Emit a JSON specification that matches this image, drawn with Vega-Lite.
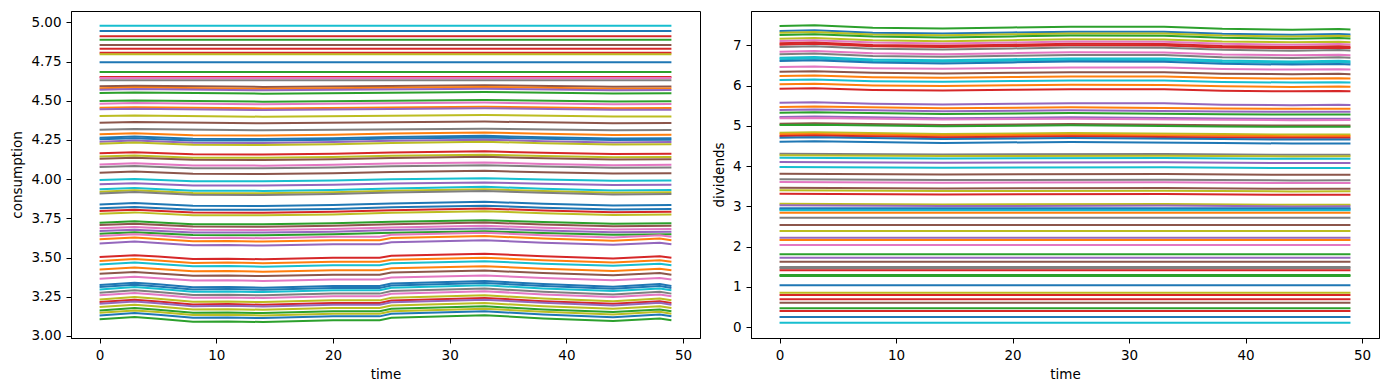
{
"$schema":"https://vega.github.io/schema/vega-lite/v6.json",
"padding":{"left":10,"top":10,"right":9,"bottom":0},
"spacing":10,
"config":{"font":"DejaVu Sans","view":{"stroke":"#000","strokeWidth":1},
"axis":{"grid":false,"domainColor":"#000","tickColor":"#000","labelColor":"#000","titleColor":"#000","labelFontSize":13.5,"titleFontSize":13.5,"titleFontWeight":"normal","tickSize":5,"labelPadding":5,"titlePadding":6,"labelFont":"DejaVu Sans","titleFont":"DejaVu Sans"}},
"datasets":{
"col":[{"s":1,"c":9},{"s":2,"c":0},{"s":3,"c":3},{"s":4,"c":2},{"s":5,"c":5},{"s":6,"c":3},{"s":7,"c":3},{"s":8,"c":8},{"s":9,"c":0},{"s":10,"c":2},{"s":11,"c":3},{"s":12,"c":6},{"s":13,"c":7},{"s":14,"c":5},{"s":15,"c":1},{"s":16,"c":4},{"s":17,"c":2},{"s":18,"c":2},{"s":19,"c":6},{"s":20,"c":1},{"s":21,"c":4},{"s":22,"c":8},{"s":23,"c":5},{"s":24,"c":7},{"s":25,"c":1},{"s":26,"c":0},{"s":27,"c":0},{"s":28,"c":4},{"s":29,"c":8},{"s":30,"c":3},{"s":31,"c":8},{"s":32,"c":5},{"s":33,"c":6},{"s":34,"c":7},{"s":35,"c":5},{"s":36,"c":9},{"s":37,"c":4},{"s":38,"c":9},{"s":39,"c":8},{"s":40,"c":7},{"s":41,"c":0},{"s":42,"c":0},{"s":43,"c":3},{"s":44,"c":8},{"s":45,"c":2},{"s":46,"c":5},{"s":47,"c":6},{"s":48,"c":4},{"s":49,"c":2},{"s":50,"c":6},{"s":51,"c":1},{"s":52,"c":4},{"s":53,"c":3},{"s":54,"c":1},{"s":55,"c":9},{"s":56,"c":1},{"s":57,"c":5},{"s":58,"c":6},{"s":59,"c":0},{"s":60,"c":0},{"s":61,"c":9},{"s":62,"c":7},{"s":63,"c":6},{"s":64,"c":8},{"s":65,"c":3},{"s":66,"c":4},{"s":67,"c":8},{"s":68,"c":2},{"s":69,"c":8},{"s":70,"c":0},{"s":71,"c":2},
{"s":101,"c":2},{"s":102,"c":0},{"s":103,"c":8},{"s":104,"c":2},{"s":105,"c":8},{"s":106,"c":6},{"s":107,"c":3},{"s":108,"c":3},{"s":109,"c":7},{"s":110,"c":6},{"s":111,"c":7},{"s":112,"c":9},{"s":113,"c":9},{"s":114,"c":0},{"s":115,"c":6},{"s":116,"c":5},{"s":117,"c":1},{"s":118,"c":9},{"s":119,"c":1},{"s":120,"c":3},{"s":121,"c":4},{"s":122,"c":1},{"s":123,"c":4},{"s":124,"c":2},{"s":125,"c":4},{"s":126,"c":6},{"s":127,"c":5},{"s":128,"c":2},{"s":129,"c":8},{"s":130,"c":1},{"s":131,"c":3},{"s":132,"c":0},{"s":133,"c":0},{"s":134,"c":7},{"s":135,"c":8},{"s":136,"c":9},{"s":137,"c":4},{"s":138,"c":9},{"s":139,"c":5},{"s":140,"c":7},{"s":141,"c":6},{"s":142,"c":5},{"s":143,"c":8},{"s":144,"c":3},{"s":145,"c":8},{"s":146,"c":4},{"s":147,"c":0},{"s":148,"c":0},{"s":149,"c":9},{"s":150,"c":1},{"s":151,"c":7},{"s":152,"c":5},{"s":153,"c":8},{"s":154,"c":4},{"s":155,"c":1},{"s":156,"c":6},{"s":157,"c":2},{"s":158,"c":4},{"s":159,"c":5},{"s":160,"c":7},{"s":161,"c":7},{"s":162,"c":3},{"s":163,"c":2},{"s":164,"c":2},{"s":165,"c":0},{"s":166,"c":8},{"s":167,"c":3},{"s":168,"c":3},{"s":169,"c":5},{"s":170,"c":2},{"s":171,"c":3},{"s":172,"c":0},{"s":173,"c":9}],
"c":[
{"s":1,"t":0,"v":4.978},{"s":1,"t":49,"v":4.978},
{"s":2,"t":0,"v":4.944},{"s":2,"t":49,"v":4.944},
{"s":3,"t":0,"v":4.911},{"s":3,"t":49,"v":4.911},
{"s":4,"t":0,"v":4.889},{"s":4,"t":49,"v":4.889},
{"s":5,"t":0,"v":4.855},{"s":5,"t":49,"v":4.855},
{"s":6,"t":0,"v":4.832},{"s":6,"t":49,"v":4.832},
{"s":7,"t":0,"v":4.806},{"s":7,"t":49,"v":4.806},
{"s":8,"t":0,"v":4.796},{"s":8,"t":49,"v":4.796},
{"s":9,"t":0,"v":4.745},{"s":9,"t":49,"v":4.745},
{"s":10,"t":0,"v":4.683},{"s":10,"t":49,"v":4.683},
{"s":11,"t":0,"v":4.651},{"s":11,"t":49,"v":4.651},
{"s":12,"t":0,"v":4.645},{"s":12,"t":49,"v":4.645},
{"s":13,"t":0,"v":4.630},{"s":13,"t":49,"v":4.630},
{"s":14,"t":0,"v":4.592},{"s":14,"t":3,"v":4.596},{"s":14,"t":14,"v":4.588},{"s":14,"t":33,"v":4.599},{"s":14,"t":44,"v":4.589},{"s":14,"t":49,"v":4.590},
{"s":15,"t":0,"v":4.580},{"s":15,"t":3,"v":4.584},{"s":15,"t":14,"v":4.576},{"s":15,"t":33,"v":4.587},{"s":15,"t":44,"v":4.577},{"s":15,"t":49,"v":4.578},
{"s":16,"t":0,"v":4.570},{"s":16,"t":3,"v":4.574},{"s":16,"t":14,"v":4.566},{"s":16,"t":33,"v":4.577},{"s":16,"t":44,"v":4.567},{"s":16,"t":49,"v":4.568},
{"s":17,"t":0,"v":4.549},{"s":17,"t":3,"v":4.553},{"s":17,"t":14,"v":4.545},{"s":17,"t":33,"v":4.556},{"s":17,"t":44,"v":4.546},{"s":17,"t":49,"v":4.547},
{"s":18,"t":0,"v":4.498},{"s":18,"t":3,"v":4.502},{"s":18,"t":14,"v":4.494},{"s":18,"t":33,"v":4.505},{"s":18,"t":44,"v":4.495},{"s":18,"t":49,"v":4.496},
{"s":19,"t":0,"v":4.481},{"s":19,"t":3,"v":4.485},{"s":19,"t":14,"v":4.477},{"s":19,"t":33,"v":4.488},{"s":19,"t":44,"v":4.478},{"s":19,"t":49,"v":4.479},
{"s":20,"t":0,"v":4.455},{"s":20,"t":3,"v":4.459},{"s":20,"t":14,"v":4.451},{"s":20,"t":33,"v":4.462},{"s":20,"t":44,"v":4.452},{"s":20,"t":49,"v":4.453},
{"s":21,"t":0,"v":4.445},{"s":21,"t":3,"v":4.449},{"s":21,"t":14,"v":4.441},{"s":21,"t":33,"v":4.452},{"s":21,"t":44,"v":4.442},{"s":21,"t":49,"v":4.443},
{"s":22,"t":0,"v":4.402},{"s":22,"t":3,"v":4.406},{"s":22,"t":14,"v":4.398},{"s":22,"t":33,"v":4.409},{"s":22,"t":44,"v":4.399},{"s":22,"t":49,"v":4.400},
{"s":23,"t":0,"v":4.360},{"s":23,"t":3,"v":4.364},{"s":23,"t":14,"v":4.356},{"s":23,"t":33,"v":4.367},{"s":23,"t":44,"v":4.357},{"s":23,"t":49,"v":4.358},
{"s":24,"t":0,"v":4.315},{"s":24,"t":3,"v":4.319},{"s":24,"t":14,"v":4.311},{"s":24,"t":33,"v":4.322},{"s":24,"t":44,"v":4.312},{"s":24,"t":49,"v":4.313},
{"s":25,"t":0,"v":4.286},{"s":25,"t":3,"v":4.293},{"s":25,"t":8,"v":4.279},{"s":25,"t":14,"v":4.278},{"s":25,"t":20,"v":4.283},{"s":25,"t":25,"v":4.291},{"s":25,"t":33,"v":4.298},{"s":25,"t":38,"v":4.289},{"s":25,"t":44,"v":4.281},{"s":25,"t":49,"v":4.283},
{"s":26,"t":0,"v":4.264},{"s":26,"t":3,"v":4.271},{"s":26,"t":8,"v":4.257},{"s":26,"t":14,"v":4.256},{"s":26,"t":20,"v":4.261},{"s":26,"t":25,"v":4.269},{"s":26,"t":33,"v":4.276},{"s":26,"t":38,"v":4.267},{"s":26,"t":44,"v":4.259},{"s":26,"t":49,"v":4.261},
{"s":27,"t":0,"v":4.254},{"s":27,"t":3,"v":4.261},{"s":27,"t":8,"v":4.247},{"s":27,"t":14,"v":4.246},{"s":27,"t":20,"v":4.251},{"s":27,"t":25,"v":4.259},{"s":27,"t":33,"v":4.266},{"s":27,"t":38,"v":4.257},{"s":27,"t":44,"v":4.249},{"s":27,"t":49,"v":4.251},
{"s":28,"t":0,"v":4.239},{"s":28,"t":3,"v":4.246},{"s":28,"t":8,"v":4.232},{"s":28,"t":14,"v":4.231},{"s":28,"t":20,"v":4.236},{"s":28,"t":25,"v":4.244},{"s":28,"t":33,"v":4.251},{"s":28,"t":38,"v":4.242},{"s":28,"t":44,"v":4.234},{"s":28,"t":49,"v":4.236},
{"s":29,"t":0,"v":4.226},{"s":29,"t":3,"v":4.233},{"s":29,"t":8,"v":4.219},{"s":29,"t":14,"v":4.218},{"s":29,"t":20,"v":4.223},{"s":29,"t":25,"v":4.231},{"s":29,"t":33,"v":4.238},{"s":29,"t":38,"v":4.229},{"s":29,"t":44,"v":4.221},{"s":29,"t":49,"v":4.223},
{"s":30,"t":0,"v":4.165},{"s":30,"t":3,"v":4.172},{"s":30,"t":8,"v":4.158},{"s":30,"t":14,"v":4.157},{"s":30,"t":20,"v":4.162},{"s":30,"t":25,"v":4.170},{"s":30,"t":33,"v":4.177},{"s":30,"t":38,"v":4.168},{"s":30,"t":44,"v":4.160},{"s":30,"t":49,"v":4.162},
{"s":31,"t":0,"v":4.144},{"s":31,"t":3,"v":4.151},{"s":31,"t":8,"v":4.137},{"s":31,"t":14,"v":4.136},{"s":31,"t":20,"v":4.141},{"s":31,"t":25,"v":4.149},{"s":31,"t":33,"v":4.156},{"s":31,"t":38,"v":4.147},{"s":31,"t":44,"v":4.139},{"s":31,"t":49,"v":4.141},
{"s":32,"t":0,"v":4.130},{"s":32,"t":3,"v":4.137},{"s":32,"t":8,"v":4.123},{"s":32,"t":14,"v":4.122},{"s":32,"t":20,"v":4.127},{"s":32,"t":25,"v":4.135},{"s":32,"t":33,"v":4.142},{"s":32,"t":38,"v":4.133},{"s":32,"t":44,"v":4.125},{"s":32,"t":49,"v":4.127},
{"s":33,"t":0,"v":4.094},{"s":33,"t":3,"v":4.101},{"s":33,"t":8,"v":4.087},{"s":33,"t":14,"v":4.086},{"s":33,"t":20,"v":4.091},{"s":33,"t":25,"v":4.099},{"s":33,"t":33,"v":4.106},{"s":33,"t":38,"v":4.097},{"s":33,"t":44,"v":4.089},{"s":33,"t":49,"v":4.091},
{"s":34,"t":0,"v":4.077},{"s":34,"t":3,"v":4.084},{"s":34,"t":8,"v":4.070},{"s":34,"t":14,"v":4.069},{"s":34,"t":20,"v":4.074},{"s":34,"t":25,"v":4.082},{"s":34,"t":33,"v":4.089},{"s":34,"t":38,"v":4.080},{"s":34,"t":44,"v":4.072},{"s":34,"t":49,"v":4.074},
{"s":35,"t":0,"v":4.041},{"s":35,"t":3,"v":4.048},{"s":35,"t":8,"v":4.034},{"s":35,"t":14,"v":4.033},{"s":35,"t":20,"v":4.038},{"s":35,"t":25,"v":4.046},{"s":35,"t":33,"v":4.053},{"s":35,"t":38,"v":4.044},{"s":35,"t":44,"v":4.036},{"s":35,"t":49,"v":4.038},
{"s":36,"t":0,"v":3.994},{"s":36,"t":3,"v":4.001},{"s":36,"t":8,"v":3.987},{"s":36,"t":14,"v":3.986},{"s":36,"t":20,"v":3.991},{"s":36,"t":25,"v":3.999},{"s":36,"t":33,"v":4.006},{"s":36,"t":38,"v":3.997},{"s":36,"t":44,"v":3.989},{"s":36,"t":49,"v":3.991},
{"s":37,"t":0,"v":3.967},{"s":37,"t":3,"v":3.974},{"s":37,"t":8,"v":3.960},{"s":37,"t":14,"v":3.959},{"s":37,"t":20,"v":3.964},{"s":37,"t":25,"v":3.972},{"s":37,"t":33,"v":3.979},{"s":37,"t":38,"v":3.970},{"s":37,"t":44,"v":3.962},{"s":37,"t":49,"v":3.964},
{"s":38,"t":0,"v":3.935},{"s":38,"t":3,"v":3.944},{"s":38,"t":8,"v":3.926},{"s":38,"t":14,"v":3.925},{"s":38,"t":20,"v":3.931},{"s":38,"t":25,"v":3.941},{"s":38,"t":33,"v":3.951},{"s":38,"t":38,"v":3.939},{"s":38,"t":44,"v":3.928},{"s":38,"t":49,"v":3.931},
{"s":39,"t":0,"v":3.920},{"s":39,"t":3,"v":3.929},{"s":39,"t":8,"v":3.911},{"s":39,"t":14,"v":3.910},{"s":39,"t":20,"v":3.916},{"s":39,"t":25,"v":3.926},{"s":39,"t":33,"v":3.936},{"s":39,"t":38,"v":3.924},{"s":39,"t":44,"v":3.913},{"s":39,"t":49,"v":3.916},
{"s":40,"t":0,"v":3.909},{"s":40,"t":3,"v":3.918},{"s":40,"t":8,"v":3.900},{"s":40,"t":14,"v":3.899},{"s":40,"t":20,"v":3.905},{"s":40,"t":25,"v":3.915},{"s":40,"t":33,"v":3.925},{"s":40,"t":38,"v":3.913},{"s":40,"t":44,"v":3.902},{"s":40,"t":49,"v":3.905},
{"s":41,"t":0,"v":3.839},{"s":41,"t":3,"v":3.848},{"s":41,"t":8,"v":3.830},{"s":41,"t":14,"v":3.829},{"s":41,"t":20,"v":3.835},{"s":41,"t":25,"v":3.845},{"s":41,"t":33,"v":3.855},{"s":41,"t":38,"v":3.843},{"s":41,"t":44,"v":3.832},{"s":41,"t":49,"v":3.835},
{"s":42,"t":0,"v":3.814},{"s":42,"t":3,"v":3.823},{"s":42,"t":8,"v":3.805},{"s":42,"t":14,"v":3.804},{"s":42,"t":20,"v":3.810},{"s":42,"t":25,"v":3.820},{"s":42,"t":33,"v":3.830},{"s":42,"t":38,"v":3.818},{"s":42,"t":44,"v":3.807},{"s":42,"t":49,"v":3.810},
{"s":43,"t":0,"v":3.796},{"s":43,"t":3,"v":3.805},{"s":43,"t":8,"v":3.787},{"s":43,"t":14,"v":3.786},{"s":43,"t":20,"v":3.792},{"s":43,"t":25,"v":3.802},{"s":43,"t":33,"v":3.812},{"s":43,"t":38,"v":3.800},{"s":43,"t":44,"v":3.789},{"s":43,"t":49,"v":3.792},
{"s":44,"t":0,"v":3.779},{"s":44,"t":3,"v":3.788},{"s":44,"t":8,"v":3.770},{"s":44,"t":14,"v":3.769},{"s":44,"t":20,"v":3.775},{"s":44,"t":25,"v":3.785},{"s":44,"t":33,"v":3.795},{"s":44,"t":38,"v":3.783},{"s":44,"t":44,"v":3.772},{"s":44,"t":49,"v":3.775},
{"s":45,"t":0,"v":3.722},{"s":45,"t":3,"v":3.731},{"s":45,"t":8,"v":3.713},{"s":45,"t":14,"v":3.712},{"s":45,"t":20,"v":3.718},{"s":45,"t":25,"v":3.728},{"s":45,"t":33,"v":3.738},{"s":45,"t":38,"v":3.726},{"s":45,"t":44,"v":3.715},{"s":45,"t":49,"v":3.718},
{"s":46,"t":0,"v":3.707},{"s":46,"t":3,"v":3.716},{"s":46,"t":8,"v":3.698},{"s":46,"t":14,"v":3.697},{"s":46,"t":20,"v":3.703},{"s":46,"t":25,"v":3.713},{"s":46,"t":33,"v":3.723},{"s":46,"t":38,"v":3.711},{"s":46,"t":44,"v":3.700},{"s":46,"t":49,"v":3.703},
{"s":47,"t":0,"v":3.686},{"s":47,"t":3,"v":3.695},{"s":47,"t":8,"v":3.677},{"s":47,"t":14,"v":3.676},{"s":47,"t":20,"v":3.682},{"s":47,"t":25,"v":3.692},{"s":47,"t":33,"v":3.702},{"s":47,"t":38,"v":3.690},{"s":47,"t":44,"v":3.679},{"s":47,"t":49,"v":3.682},
{"s":48,"t":0,"v":3.669},{"s":48,"t":3,"v":3.678},{"s":48,"t":8,"v":3.660},{"s":48,"t":14,"v":3.659},{"s":48,"t":20,"v":3.665},{"s":48,"t":25,"v":3.675},{"s":48,"t":33,"v":3.685},{"s":48,"t":38,"v":3.673},{"s":48,"t":44,"v":3.662},{"s":48,"t":49,"v":3.665},
{"s":49,"t":0,"v":3.652},{"s":49,"t":3,"v":3.661},{"s":49,"t":8,"v":3.643},{"s":49,"t":14,"v":3.642},{"s":49,"t":20,"v":3.648},{"s":49,"t":25,"v":3.658},{"s":49,"t":33,"v":3.668},{"s":49,"t":38,"v":3.656},{"s":49,"t":44,"v":3.645},{"s":49,"t":49,"v":3.648},
{"s":50,"t":0,"v":3.637},{"s":50,"t":3,"v":3.649},{"s":50,"t":5,"v":3.640},{"s":50,"t":8,"v":3.625},{"s":50,"t":11,"v":3.627},{"s":50,"t":14,"v":3.623},{"s":50,"t":20,"v":3.632},{"s":50,"t":24,"v":3.632},{"s":50,"t":25,"v":3.645},{"s":50,"t":33,"v":3.658},{"s":50,"t":38,"v":3.642},{"s":50,"t":44,"v":3.628},{"s":50,"t":48,"v":3.642},{"s":50,"t":49,"v":3.632},
{"s":51,"t":0,"v":3.616},{"s":51,"t":3,"v":3.628},{"s":51,"t":5,"v":3.619},{"s":51,"t":8,"v":3.604},{"s":51,"t":11,"v":3.606},{"s":51,"t":14,"v":3.602},{"s":51,"t":20,"v":3.611},{"s":51,"t":24,"v":3.611},{"s":51,"t":25,"v":3.624},{"s":51,"t":33,"v":3.637},{"s":51,"t":38,"v":3.621},{"s":51,"t":44,"v":3.607},{"s":51,"t":48,"v":3.621},{"s":51,"t":49,"v":3.611},
{"s":52,"t":0,"v":3.590},{"s":52,"t":3,"v":3.602},{"s":52,"t":5,"v":3.593},{"s":52,"t":8,"v":3.578},{"s":52,"t":11,"v":3.580},{"s":52,"t":14,"v":3.576},{"s":52,"t":20,"v":3.585},{"s":52,"t":24,"v":3.585},{"s":52,"t":25,"v":3.598},{"s":52,"t":33,"v":3.611},{"s":52,"t":38,"v":3.595},{"s":52,"t":44,"v":3.581},{"s":52,"t":48,"v":3.595},{"s":52,"t":49,"v":3.585},
{"s":53,"t":0,"v":3.503},{"s":53,"t":3,"v":3.515},{"s":53,"t":5,"v":3.506},{"s":53,"t":8,"v":3.491},{"s":53,"t":11,"v":3.493},{"s":53,"t":14,"v":3.489},{"s":53,"t":20,"v":3.498},{"s":53,"t":24,"v":3.498},{"s":53,"t":25,"v":3.511},{"s":53,"t":33,"v":3.524},{"s":53,"t":38,"v":3.508},{"s":53,"t":44,"v":3.494},{"s":53,"t":48,"v":3.508},{"s":53,"t":49,"v":3.498},
{"s":54,"t":0,"v":3.478},{"s":54,"t":3,"v":3.490},{"s":54,"t":5,"v":3.481},{"s":54,"t":8,"v":3.466},{"s":54,"t":11,"v":3.468},{"s":54,"t":14,"v":3.464},{"s":54,"t":20,"v":3.473},{"s":54,"t":24,"v":3.473},{"s":54,"t":25,"v":3.486},{"s":54,"t":33,"v":3.499},{"s":54,"t":38,"v":3.483},{"s":54,"t":44,"v":3.469},{"s":54,"t":48,"v":3.483},{"s":54,"t":49,"v":3.473},
{"s":55,"t":0,"v":3.456},{"s":55,"t":3,"v":3.468},{"s":55,"t":5,"v":3.459},{"s":55,"t":8,"v":3.444},{"s":55,"t":11,"v":3.446},{"s":55,"t":14,"v":3.442},{"s":55,"t":20,"v":3.451},{"s":55,"t":24,"v":3.451},{"s":55,"t":25,"v":3.464},{"s":55,"t":33,"v":3.477},{"s":55,"t":38,"v":3.461},{"s":55,"t":44,"v":3.447},{"s":55,"t":48,"v":3.461},{"s":55,"t":49,"v":3.451},
{"s":56,"t":0,"v":3.424},{"s":56,"t":3,"v":3.436},{"s":56,"t":5,"v":3.427},{"s":56,"t":8,"v":3.412},{"s":56,"t":11,"v":3.414},{"s":56,"t":14,"v":3.410},{"s":56,"t":20,"v":3.419},{"s":56,"t":24,"v":3.419},{"s":56,"t":25,"v":3.432},{"s":56,"t":33,"v":3.445},{"s":56,"t":38,"v":3.429},{"s":56,"t":44,"v":3.415},{"s":56,"t":48,"v":3.429},{"s":56,"t":49,"v":3.419},
{"s":57,"t":0,"v":3.396},{"s":57,"t":3,"v":3.408},{"s":57,"t":5,"v":3.399},{"s":57,"t":8,"v":3.384},{"s":57,"t":11,"v":3.386},{"s":57,"t":14,"v":3.382},{"s":57,"t":20,"v":3.391},{"s":57,"t":24,"v":3.391},{"s":57,"t":25,"v":3.404},{"s":57,"t":33,"v":3.417},{"s":57,"t":38,"v":3.401},{"s":57,"t":44,"v":3.387},{"s":57,"t":48,"v":3.401},{"s":57,"t":49,"v":3.391},
{"s":58,"t":0,"v":3.365},{"s":58,"t":3,"v":3.377},{"s":58,"t":5,"v":3.368},{"s":58,"t":8,"v":3.353},{"s":58,"t":11,"v":3.355},{"s":58,"t":14,"v":3.351},{"s":58,"t":20,"v":3.360},{"s":58,"t":24,"v":3.360},{"s":58,"t":25,"v":3.373},{"s":58,"t":33,"v":3.386},{"s":58,"t":38,"v":3.370},{"s":58,"t":44,"v":3.356},{"s":58,"t":48,"v":3.370},{"s":58,"t":49,"v":3.360},
{"s":59,"t":0,"v":3.325},{"s":59,"t":3,"v":3.340},{"s":59,"t":5,"v":3.329},{"s":59,"t":8,"v":3.310},{"s":59,"t":11,"v":3.312},{"s":59,"t":14,"v":3.308},{"s":59,"t":20,"v":3.319},{"s":59,"t":24,"v":3.319},{"s":59,"t":25,"v":3.335},{"s":59,"t":33,"v":3.351},{"s":59,"t":38,"v":3.331},{"s":59,"t":44,"v":3.314},{"s":59,"t":48,"v":3.331},{"s":59,"t":49,"v":3.319},
{"s":60,"t":0,"v":3.312},{"s":60,"t":3,"v":3.327},{"s":60,"t":5,"v":3.316},{"s":60,"t":8,"v":3.297},{"s":60,"t":11,"v":3.299},{"s":60,"t":14,"v":3.295},{"s":60,"t":20,"v":3.306},{"s":60,"t":24,"v":3.306},{"s":60,"t":25,"v":3.322},{"s":60,"t":33,"v":3.338},{"s":60,"t":38,"v":3.318},{"s":60,"t":44,"v":3.301},{"s":60,"t":48,"v":3.318},{"s":60,"t":49,"v":3.306},
{"s":61,"t":0,"v":3.297},{"s":61,"t":3,"v":3.312},{"s":61,"t":5,"v":3.301},{"s":61,"t":8,"v":3.282},{"s":61,"t":11,"v":3.284},{"s":61,"t":14,"v":3.280},{"s":61,"t":20,"v":3.291},{"s":61,"t":24,"v":3.291},{"s":61,"t":25,"v":3.307},{"s":61,"t":33,"v":3.323},{"s":61,"t":38,"v":3.303},{"s":61,"t":44,"v":3.286},{"s":61,"t":48,"v":3.303},{"s":61,"t":49,"v":3.291},
{"s":62,"t":0,"v":3.276},{"s":62,"t":3,"v":3.291},{"s":62,"t":5,"v":3.280},{"s":62,"t":8,"v":3.261},{"s":62,"t":11,"v":3.263},{"s":62,"t":14,"v":3.259},{"s":62,"t":20,"v":3.270},{"s":62,"t":24,"v":3.270},{"s":62,"t":25,"v":3.286},{"s":62,"t":33,"v":3.302},{"s":62,"t":38,"v":3.282},{"s":62,"t":44,"v":3.265},{"s":62,"t":48,"v":3.282},{"s":62,"t":49,"v":3.270},
{"s":63,"t":0,"v":3.259},{"s":63,"t":3,"v":3.274},{"s":63,"t":5,"v":3.263},{"s":63,"t":8,"v":3.244},{"s":63,"t":11,"v":3.246},{"s":63,"t":14,"v":3.242},{"s":63,"t":20,"v":3.253},{"s":63,"t":24,"v":3.253},{"s":63,"t":25,"v":3.269},{"s":63,"t":33,"v":3.285},{"s":63,"t":38,"v":3.265},{"s":63,"t":44,"v":3.248},{"s":63,"t":48,"v":3.265},{"s":63,"t":49,"v":3.253},
{"s":64,"t":0,"v":3.233},{"s":64,"t":3,"v":3.248},{"s":64,"t":5,"v":3.237},{"s":64,"t":8,"v":3.218},{"s":64,"t":11,"v":3.220},{"s":64,"t":14,"v":3.216},{"s":64,"t":20,"v":3.227},{"s":64,"t":24,"v":3.227},{"s":64,"t":25,"v":3.243},{"s":64,"t":33,"v":3.259},{"s":64,"t":38,"v":3.239},{"s":64,"t":44,"v":3.222},{"s":64,"t":48,"v":3.239},{"s":64,"t":49,"v":3.227},
{"s":65,"t":0,"v":3.216},{"s":65,"t":3,"v":3.231},{"s":65,"t":5,"v":3.220},{"s":65,"t":8,"v":3.201},{"s":65,"t":11,"v":3.203},{"s":65,"t":14,"v":3.199},{"s":65,"t":20,"v":3.210},{"s":65,"t":24,"v":3.210},{"s":65,"t":25,"v":3.226},{"s":65,"t":33,"v":3.242},{"s":65,"t":38,"v":3.222},{"s":65,"t":44,"v":3.205},{"s":65,"t":48,"v":3.222},{"s":65,"t":49,"v":3.210},
{"s":66,"t":0,"v":3.205},{"s":66,"t":3,"v":3.220},{"s":66,"t":5,"v":3.209},{"s":66,"t":8,"v":3.190},{"s":66,"t":11,"v":3.192},{"s":66,"t":14,"v":3.188},{"s":66,"t":20,"v":3.199},{"s":66,"t":24,"v":3.199},{"s":66,"t":25,"v":3.215},{"s":66,"t":33,"v":3.231},{"s":66,"t":38,"v":3.211},{"s":66,"t":44,"v":3.194},{"s":66,"t":48,"v":3.211},{"s":66,"t":49,"v":3.199},
{"s":67,"t":0,"v":3.184},{"s":67,"t":3,"v":3.199},{"s":67,"t":5,"v":3.188},{"s":67,"t":8,"v":3.169},{"s":67,"t":11,"v":3.171},{"s":67,"t":14,"v":3.167},{"s":67,"t":20,"v":3.178},{"s":67,"t":24,"v":3.178},{"s":67,"t":25,"v":3.194},{"s":67,"t":33,"v":3.210},{"s":67,"t":38,"v":3.190},{"s":67,"t":44,"v":3.173},{"s":67,"t":48,"v":3.190},{"s":67,"t":49,"v":3.178},
{"s":68,"t":0,"v":3.163},{"s":68,"t":3,"v":3.178},{"s":68,"t":5,"v":3.167},{"s":68,"t":8,"v":3.148},{"s":68,"t":11,"v":3.150},{"s":68,"t":14,"v":3.146},{"s":68,"t":20,"v":3.157},{"s":68,"t":24,"v":3.157},{"s":68,"t":25,"v":3.173},{"s":68,"t":33,"v":3.189},{"s":68,"t":38,"v":3.169},{"s":68,"t":44,"v":3.152},{"s":68,"t":48,"v":3.169},{"s":68,"t":49,"v":3.157},
{"s":69,"t":0,"v":3.148},{"s":69,"t":3,"v":3.163},{"s":69,"t":5,"v":3.152},{"s":69,"t":8,"v":3.133},{"s":69,"t":11,"v":3.135},{"s":69,"t":14,"v":3.131},{"s":69,"t":20,"v":3.142},{"s":69,"t":24,"v":3.142},{"s":69,"t":25,"v":3.158},{"s":69,"t":33,"v":3.174},{"s":69,"t":38,"v":3.154},{"s":69,"t":44,"v":3.137},{"s":69,"t":48,"v":3.154},{"s":69,"t":49,"v":3.142},
{"s":70,"t":0,"v":3.131},{"s":70,"t":3,"v":3.146},{"s":70,"t":5,"v":3.135},{"s":70,"t":8,"v":3.116},{"s":70,"t":11,"v":3.118},{"s":70,"t":14,"v":3.114},{"s":70,"t":20,"v":3.125},{"s":70,"t":24,"v":3.125},{"s":70,"t":25,"v":3.141},{"s":70,"t":33,"v":3.157},{"s":70,"t":38,"v":3.137},{"s":70,"t":44,"v":3.120},{"s":70,"t":48,"v":3.137},{"s":70,"t":49,"v":3.125},
{"s":71,"t":0,"v":3.106},{"s":71,"t":3,"v":3.121},{"s":71,"t":5,"v":3.110},{"s":71,"t":8,"v":3.091},{"s":71,"t":11,"v":3.093},{"s":71,"t":14,"v":3.089},{"s":71,"t":20,"v":3.100},{"s":71,"t":24,"v":3.100},{"s":71,"t":25,"v":3.116},{"s":71,"t":33,"v":3.132},{"s":71,"t":38,"v":3.112},{"s":71,"t":44,"v":3.095},{"s":71,"t":48,"v":3.112},{"s":71,"t":49,"v":3.100}
],
"d":[
{"s":101,"t":0,"v":7.478},{"s":101,"t":3,"v":7.498},{"s":101,"t":8,"v":7.438},{"s":101,"t":14,"v":7.418},{"s":101,"t":20,"v":7.443},{"s":101,"t":25,"v":7.463},{"s":101,"t":33,"v":7.458},{"s":101,"t":38,"v":7.408},{"s":101,"t":44,"v":7.388},{"s":101,"t":48,"v":7.403},{"s":101,"t":49,"v":7.393},
{"s":102,"t":0,"v":7.354},{"s":102,"t":3,"v":7.374},{"s":102,"t":8,"v":7.314},{"s":102,"t":14,"v":7.294},{"s":102,"t":20,"v":7.319},{"s":102,"t":25,"v":7.339},{"s":102,"t":33,"v":7.334},{"s":102,"t":38,"v":7.284},{"s":102,"t":44,"v":7.264},{"s":102,"t":48,"v":7.279},{"s":102,"t":49,"v":7.269},
{"s":103,"t":0,"v":7.310},{"s":103,"t":3,"v":7.330},{"s":103,"t":8,"v":7.270},{"s":103,"t":14,"v":7.250},{"s":103,"t":20,"v":7.275},{"s":103,"t":25,"v":7.295},{"s":103,"t":33,"v":7.290},{"s":103,"t":38,"v":7.240},{"s":103,"t":44,"v":7.220},{"s":103,"t":48,"v":7.235},{"s":103,"t":49,"v":7.225},
{"s":104,"t":0,"v":7.255},{"s":104,"t":3,"v":7.275},{"s":104,"t":8,"v":7.215},{"s":104,"t":14,"v":7.195},{"s":104,"t":20,"v":7.220},{"s":104,"t":25,"v":7.240},{"s":104,"t":33,"v":7.235},{"s":104,"t":38,"v":7.185},{"s":104,"t":44,"v":7.165},{"s":104,"t":48,"v":7.180},{"s":104,"t":49,"v":7.170},
{"s":105,"t":0,"v":7.163},{"s":105,"t":3,"v":7.183},{"s":105,"t":8,"v":7.123},{"s":105,"t":14,"v":7.103},{"s":105,"t":20,"v":7.128},{"s":105,"t":25,"v":7.148},{"s":105,"t":33,"v":7.143},{"s":105,"t":38,"v":7.093},{"s":105,"t":44,"v":7.073},{"s":105,"t":48,"v":7.088},{"s":105,"t":49,"v":7.078},
{"s":106,"t":0,"v":7.106},{"s":106,"t":3,"v":7.126},{"s":106,"t":8,"v":7.066},{"s":106,"t":14,"v":7.046},{"s":106,"t":20,"v":7.071},{"s":106,"t":25,"v":7.091},{"s":106,"t":33,"v":7.086},{"s":106,"t":38,"v":7.036},{"s":106,"t":44,"v":7.016},{"s":106,"t":48,"v":7.031},{"s":106,"t":49,"v":7.021},
{"s":107,"t":0,"v":7.050},{"s":107,"t":3,"v":7.070},{"s":107,"t":8,"v":7.010},{"s":107,"t":14,"v":6.990},{"s":107,"t":20,"v":7.015},{"s":107,"t":25,"v":7.035},{"s":107,"t":33,"v":7.030},{"s":107,"t":38,"v":6.980},{"s":107,"t":44,"v":6.960},{"s":107,"t":48,"v":6.975},{"s":107,"t":49,"v":6.965},
{"s":108,"t":0,"v":7.015},{"s":108,"t":3,"v":7.035},{"s":108,"t":8,"v":6.975},{"s":108,"t":14,"v":6.955},{"s":108,"t":20,"v":6.980},{"s":108,"t":25,"v":7.000},{"s":108,"t":33,"v":6.995},{"s":108,"t":38,"v":6.945},{"s":108,"t":44,"v":6.925},{"s":108,"t":48,"v":6.940},{"s":108,"t":49,"v":6.930},
{"s":109,"t":0,"v":6.957},{"s":109,"t":3,"v":6.977},{"s":109,"t":8,"v":6.917},{"s":109,"t":14,"v":6.897},{"s":109,"t":20,"v":6.922},{"s":109,"t":25,"v":6.942},{"s":109,"t":33,"v":6.937},{"s":109,"t":38,"v":6.887},{"s":109,"t":44,"v":6.867},{"s":109,"t":48,"v":6.882},{"s":109,"t":49,"v":6.872},
{"s":110,"t":0,"v":6.840},{"s":110,"t":3,"v":6.860},{"s":110,"t":8,"v":6.800},{"s":110,"t":14,"v":6.780},{"s":110,"t":20,"v":6.805},{"s":110,"t":25,"v":6.825},{"s":110,"t":33,"v":6.820},{"s":110,"t":38,"v":6.770},{"s":110,"t":44,"v":6.750},{"s":110,"t":48,"v":6.765},{"s":110,"t":49,"v":6.755},
{"s":111,"t":0,"v":6.776},{"s":111,"t":3,"v":6.796},{"s":111,"t":8,"v":6.736},{"s":111,"t":14,"v":6.716},{"s":111,"t":20,"v":6.741},{"s":111,"t":25,"v":6.761},{"s":111,"t":33,"v":6.756},{"s":111,"t":38,"v":6.706},{"s":111,"t":44,"v":6.686},{"s":111,"t":48,"v":6.701},{"s":111,"t":49,"v":6.691},
{"s":112,"t":0,"v":6.690},{"s":112,"t":3,"v":6.710},{"s":112,"t":8,"v":6.650},{"s":112,"t":14,"v":6.630},{"s":112,"t":20,"v":6.655},{"s":112,"t":25,"v":6.675},{"s":112,"t":33,"v":6.670},{"s":112,"t":38,"v":6.620},{"s":112,"t":44,"v":6.600},{"s":112,"t":48,"v":6.615},{"s":112,"t":49,"v":6.605},
{"s":113,"t":0,"v":6.652},{"s":113,"t":3,"v":6.672},{"s":113,"t":8,"v":6.612},{"s":113,"t":14,"v":6.592},{"s":113,"t":20,"v":6.617},{"s":113,"t":25,"v":6.637},{"s":113,"t":33,"v":6.632},{"s":113,"t":38,"v":6.582},{"s":113,"t":44,"v":6.562},{"s":113,"t":48,"v":6.577},{"s":113,"t":49,"v":6.567},
{"s":114,"t":0,"v":6.610},{"s":114,"t":3,"v":6.630},{"s":114,"t":8,"v":6.570},{"s":114,"t":14,"v":6.550},{"s":114,"t":20,"v":6.575},{"s":114,"t":25,"v":6.595},{"s":114,"t":33,"v":6.590},{"s":114,"t":38,"v":6.540},{"s":114,"t":44,"v":6.520},{"s":114,"t":48,"v":6.535},{"s":114,"t":49,"v":6.525},
{"s":115,"t":0,"v":6.460},{"s":115,"t":3,"v":6.474},{"s":115,"t":8,"v":6.432},{"s":115,"t":14,"v":6.418},{"s":115,"t":20,"v":6.435},{"s":115,"t":25,"v":6.449},{"s":115,"t":33,"v":6.446},{"s":115,"t":38,"v":6.411},{"s":115,"t":44,"v":6.397},{"s":115,"t":48,"v":6.407},{"s":115,"t":49,"v":6.400},
{"s":116,"t":0,"v":6.344},{"s":116,"t":3,"v":6.358},{"s":116,"t":8,"v":6.316},{"s":116,"t":14,"v":6.302},{"s":116,"t":20,"v":6.319},{"s":116,"t":25,"v":6.333},{"s":116,"t":33,"v":6.330},{"s":116,"t":38,"v":6.295},{"s":116,"t":44,"v":6.281},{"s":116,"t":48,"v":6.291},{"s":116,"t":49,"v":6.284},
{"s":117,"t":0,"v":6.237},{"s":117,"t":3,"v":6.251},{"s":117,"t":8,"v":6.209},{"s":117,"t":14,"v":6.195},{"s":117,"t":20,"v":6.212},{"s":117,"t":25,"v":6.226},{"s":117,"t":33,"v":6.223},{"s":117,"t":38,"v":6.188},{"s":117,"t":44,"v":6.174},{"s":117,"t":48,"v":6.184},{"s":117,"t":49,"v":6.177},
{"s":118,"t":0,"v":6.138},{"s":118,"t":3,"v":6.152},{"s":118,"t":8,"v":6.110},{"s":118,"t":14,"v":6.096},{"s":118,"t":20,"v":6.113},{"s":118,"t":25,"v":6.127},{"s":118,"t":33,"v":6.124},{"s":118,"t":38,"v":6.089},{"s":118,"t":44,"v":6.075},{"s":118,"t":48,"v":6.085},{"s":118,"t":49,"v":6.078},
{"s":119,"t":0,"v":6.030},{"s":119,"t":3,"v":6.044},{"s":119,"t":8,"v":6.002},{"s":119,"t":14,"v":5.988},{"s":119,"t":20,"v":6.005},{"s":119,"t":25,"v":6.019},{"s":119,"t":33,"v":6.016},{"s":119,"t":38,"v":5.981},{"s":119,"t":44,"v":5.967},{"s":119,"t":48,"v":5.977},{"s":119,"t":49,"v":5.970},
{"s":120,"t":0,"v":5.920},{"s":120,"t":3,"v":5.934},{"s":120,"t":8,"v":5.892},{"s":120,"t":14,"v":5.878},{"s":120,"t":20,"v":5.895},{"s":120,"t":25,"v":5.909},{"s":120,"t":33,"v":5.906},{"s":120,"t":38,"v":5.871},{"s":120,"t":44,"v":5.857},{"s":120,"t":48,"v":5.867},{"s":120,"t":49,"v":5.860},
{"s":121,"t":0,"v":5.575},{"s":121,"t":3,"v":5.589},{"s":121,"t":8,"v":5.547},{"s":121,"t":14,"v":5.533},{"s":121,"t":20,"v":5.550},{"s":121,"t":25,"v":5.564},{"s":121,"t":33,"v":5.561},{"s":121,"t":38,"v":5.526},{"s":121,"t":44,"v":5.512},{"s":121,"t":48,"v":5.522},{"s":121,"t":49,"v":5.515},
{"s":122,"t":0,"v":5.468},{"s":122,"t":3,"v":5.478},{"s":122,"t":14,"v":5.438},{"s":122,"t":25,"v":5.460},{"s":122,"t":38,"v":5.433},{"s":122,"t":44,"v":5.423},{"s":122,"t":49,"v":5.426},
{"s":123,"t":0,"v":5.393},{"s":123,"t":3,"v":5.403},{"s":123,"t":14,"v":5.363},{"s":123,"t":25,"v":5.385},{"s":123,"t":38,"v":5.358},{"s":123,"t":44,"v":5.348},{"s":123,"t":49,"v":5.351},
{"s":124,"t":0,"v":5.326},{"s":124,"t":3,"v":5.336},{"s":124,"t":14,"v":5.296},{"s":124,"t":25,"v":5.318},{"s":124,"t":38,"v":5.291},{"s":124,"t":44,"v":5.281},{"s":124,"t":49,"v":5.284},
{"s":125,"t":0,"v":5.220},{"s":125,"t":3,"v":5.230},{"s":125,"t":14,"v":5.190},{"s":125,"t":25,"v":5.212},{"s":125,"t":38,"v":5.185},{"s":125,"t":44,"v":5.175},{"s":125,"t":49,"v":5.178},
{"s":126,"t":0,"v":5.187},{"s":126,"t":3,"v":5.197},{"s":126,"t":14,"v":5.157},{"s":126,"t":25,"v":5.179},{"s":126,"t":38,"v":5.152},{"s":126,"t":44,"v":5.142},{"s":126,"t":49,"v":5.145},
{"s":127,"t":0,"v":5.053},{"s":127,"t":3,"v":5.063},{"s":127,"t":14,"v":5.023},{"s":127,"t":25,"v":5.045},{"s":127,"t":38,"v":5.018},{"s":127,"t":44,"v":5.008},{"s":127,"t":49,"v":5.011},
{"s":128,"t":0,"v":5.020},{"s":128,"t":3,"v":5.030},{"s":128,"t":14,"v":4.990},{"s":128,"t":25,"v":5.012},{"s":128,"t":38,"v":4.985},{"s":128,"t":44,"v":4.975},{"s":128,"t":49,"v":4.978},
{"s":129,"t":0,"v":4.830},{"s":129,"t":3,"v":4.840},{"s":129,"t":14,"v":4.800},{"s":129,"t":25,"v":4.822},{"s":129,"t":38,"v":4.795},{"s":129,"t":44,"v":4.785},{"s":129,"t":49,"v":4.788},
{"s":130,"t":0,"v":4.790},{"s":130,"t":3,"v":4.800},{"s":130,"t":14,"v":4.760},{"s":130,"t":25,"v":4.782},{"s":130,"t":38,"v":4.755},{"s":130,"t":44,"v":4.745},{"s":130,"t":49,"v":4.748},
{"s":131,"t":0,"v":4.748},{"s":131,"t":3,"v":4.758},{"s":131,"t":14,"v":4.718},{"s":131,"t":25,"v":4.740},{"s":131,"t":38,"v":4.713},{"s":131,"t":44,"v":4.703},{"s":131,"t":49,"v":4.706},
{"s":132,"t":0,"v":4.706},{"s":132,"t":3,"v":4.716},{"s":132,"t":14,"v":4.676},{"s":132,"t":25,"v":4.698},{"s":132,"t":38,"v":4.671},{"s":132,"t":44,"v":4.661},{"s":132,"t":49,"v":4.664},
{"s":133,"t":0,"v":4.607},{"s":133,"t":3,"v":4.617},{"s":133,"t":14,"v":4.577},{"s":133,"t":25,"v":4.599},{"s":133,"t":38,"v":4.572},{"s":133,"t":44,"v":4.562},{"s":133,"t":49,"v":4.565},
{"s":134,"t":0,"v":4.309},{"s":134,"t":14,"v":4.291},{"s":134,"t":33,"v":4.301},{"s":134,"t":44,"v":4.282},{"s":134,"t":49,"v":4.284},
{"s":135,"t":0,"v":4.269},{"s":135,"t":14,"v":4.251},{"s":135,"t":33,"v":4.261},{"s":135,"t":44,"v":4.242},{"s":135,"t":49,"v":4.244},
{"s":136,"t":0,"v":4.210},{"s":136,"t":14,"v":4.192},{"s":136,"t":33,"v":4.202},{"s":136,"t":44,"v":4.183},{"s":136,"t":49,"v":4.185},
{"s":137,"t":0,"v":4.103},{"s":137,"t":14,"v":4.085},{"s":137,"t":33,"v":4.095},{"s":137,"t":44,"v":4.076},{"s":137,"t":49,"v":4.078},
{"s":138,"t":0,"v":3.979},{"s":138,"t":14,"v":3.961},{"s":138,"t":33,"v":3.971},{"s":138,"t":44,"v":3.952},{"s":138,"t":49,"v":3.954},
{"s":139,"t":0,"v":3.812},{"s":139,"t":14,"v":3.794},{"s":139,"t":33,"v":3.804},{"s":139,"t":44,"v":3.785},{"s":139,"t":49,"v":3.787},
{"s":140,"t":0,"v":3.673},{"s":140,"t":14,"v":3.655},{"s":140,"t":33,"v":3.665},{"s":140,"t":44,"v":3.646},{"s":140,"t":49,"v":3.648},
{"s":141,"t":0,"v":3.606},{"s":141,"t":14,"v":3.588},{"s":141,"t":33,"v":3.598},{"s":141,"t":44,"v":3.579},{"s":141,"t":49,"v":3.581},
{"s":142,"t":0,"v":3.465},{"s":142,"t":14,"v":3.447},{"s":142,"t":33,"v":3.457},{"s":142,"t":44,"v":3.438},{"s":142,"t":49,"v":3.440},
{"s":143,"t":0,"v":3.400},{"s":143,"t":14,"v":3.382},{"s":143,"t":33,"v":3.392},{"s":143,"t":44,"v":3.373},{"s":143,"t":49,"v":3.375},
{"s":144,"t":0,"v":3.316},{"s":144,"t":14,"v":3.298},{"s":144,"t":33,"v":3.308},{"s":144,"t":44,"v":3.289},{"s":144,"t":49,"v":3.291},
{"s":145,"t":0,"v":3.068},{"s":145,"t":14,"v":3.050},{"s":145,"t":33,"v":3.060},{"s":145,"t":44,"v":3.041},{"s":145,"t":49,"v":3.043},
{"s":146,"t":0,"v":3.028},{"s":146,"t":14,"v":3.010},{"s":146,"t":33,"v":3.020},{"s":146,"t":44,"v":3.001},{"s":146,"t":49,"v":3.003},
{"s":147,"t":0,"v":2.953},{"s":147,"t":49,"v":2.953},
{"s":148,"t":0,"v":2.929},{"s":148,"t":49,"v":2.929},
{"s":149,"t":0,"v":2.904},{"s":149,"t":49,"v":2.904},
{"s":150,"t":0,"v":2.845},{"s":150,"t":49,"v":2.845},
{"s":151,"t":0,"v":2.720},{"s":151,"t":49,"v":2.720},
{"s":152,"t":0,"v":2.539},{"s":152,"t":49,"v":2.539},
{"s":153,"t":0,"v":2.390},{"s":153,"t":49,"v":2.390},
{"s":154,"t":0,"v":2.224},{"s":154,"t":49,"v":2.224},
{"s":155,"t":0,"v":2.167},{"s":155,"t":49,"v":2.167},
{"s":156,"t":0,"v":2.043},{"s":156,"t":49,"v":2.043},
{"s":157,"t":0,"v":1.812},{"s":157,"t":49,"v":1.812},
{"s":158,"t":0,"v":1.727},{"s":158,"t":49,"v":1.727},
{"s":159,"t":0,"v":1.628},{"s":159,"t":49,"v":1.628},
{"s":160,"t":0,"v":1.497},{"s":160,"t":49,"v":1.497},
{"s":161,"t":0,"v":1.464},{"s":161,"t":49,"v":1.464},
{"s":162,"t":0,"v":1.415},{"s":162,"t":49,"v":1.415},
{"s":163,"t":0,"v":1.298},{"s":163,"t":49,"v":1.298},
{"s":164,"t":0,"v":1.273},{"s":164,"t":49,"v":1.273},
{"s":165,"t":0,"v":1.042},{"s":165,"t":49,"v":1.042},
{"s":166,"t":0,"v":0.859},{"s":166,"t":49,"v":0.859},
{"s":167,"t":0,"v":0.802},{"s":167,"t":49,"v":0.802},
{"s":168,"t":0,"v":0.695},{"s":168,"t":49,"v":0.695},
{"s":169,"t":0,"v":0.611},{"s":169,"t":49,"v":0.611},
{"s":170,"t":0,"v":0.472},{"s":170,"t":49,"v":0.472},
{"s":171,"t":0,"v":0.405},{"s":171,"t":49,"v":0.405},
{"s":172,"t":0,"v":0.256},{"s":172,"t":49,"v":0.256},
{"s":173,"t":0,"v":0.115},{"s":173,"t":49,"v":0.115}
]},
"hconcat":[
{"width":629,"height":327,"data":{"name":"c"},
"transform":[{"lookup":"s","from":{"data":{"name":"col"},"key":"s","fields":["c"]}}],
"mark":{"type":"line","strokeWidth":2},
"encoding":{
"x":{"field":"t","type":"quantitative","title":"time","scale":{"domain":[-2.45,51.45],"nice":false,"zero":false},"axis":{"values":[0,10,20,30,40,50]}},
"y":{"field":"v","type":"quantitative","title":"consumption","scale":{"domain":[2.987,5.072],"nice":false,"zero":false},"axis":{"values":[3,3.25,3.5,3.75,4,4.25,4.5,4.75,5],"format":".2f"}},
"color":{"field":"c","type":"nominal","legend":null,"scale":{"domain":[0,1,2,3,4,5,6,7,8,9],"range":["#1f77b4","#ff7f0e","#2ca02c","#d62728","#9467bd","#8c564b","#e377c2","#7f7f7f","#bcbd22","#17becf"]}},
"detail":{"field":"s","type":"nominal"}}},
{"width":628,"height":327,"data":{"name":"d"},
"transform":[{"lookup":"s","from":{"data":{"name":"col"},"key":"s","fields":["c"]}}],
"mark":{"type":"line","strokeWidth":2},
"encoding":{
"x":{"field":"t","type":"quantitative","title":"time","scale":{"domain":[-2.45,51.45],"nice":false,"zero":false},"axis":{"values":[0,10,20,30,40,50]}},
"y":{"field":"v","type":"quantitative","title":"dividends","scale":{"domain":[-0.266,7.851],"nice":false,"zero":false},"axis":{"values":[0,1,2,3,4,5,6,7]}},
"color":{"field":"c","type":"nominal","legend":null,"scale":{"domain":[0,1,2,3,4,5,6,7,8,9],"range":["#1f77b4","#ff7f0e","#2ca02c","#d62728","#9467bd","#8c564b","#e377c2","#7f7f7f","#bcbd22","#17becf"]}},
"detail":{"field":"s","type":"nominal"}}}
]
}
